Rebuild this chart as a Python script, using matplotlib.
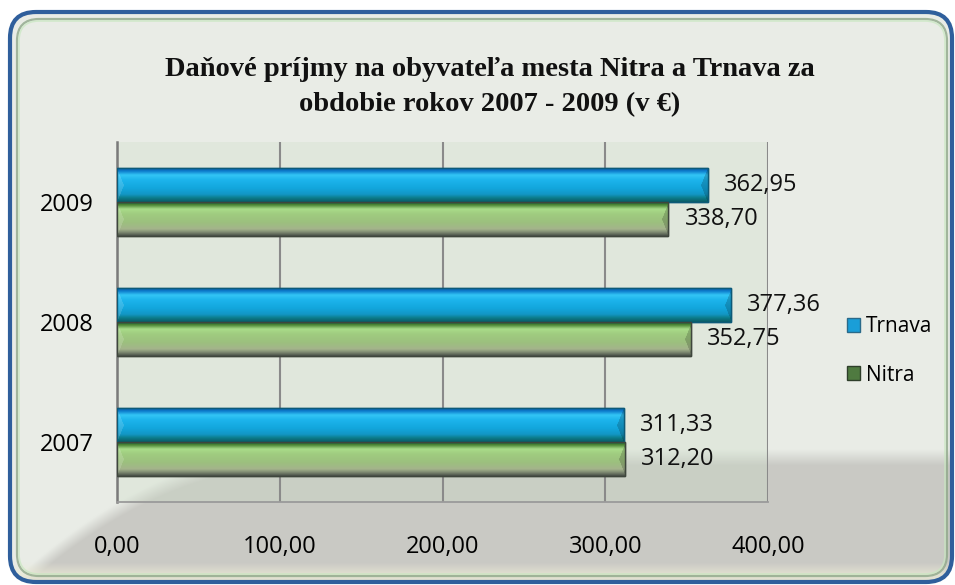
import numpy as np
import matplotlib
matplotlib.use("Agg")
import matplotlib.pyplot as plt
from matplotlib.patches import FancyBboxPatch, Rectangle, Patch
from matplotlib.colors import LinearSegmentedColormap, to_rgb

# ---- data ----
years = ["2007", "2008", "2009"]
trnava = [311.33, 377.36, 362.95]
nitra = [312.20, 352.75, 338.70]
series_names = ["Trnava", "Nitra"]
xticks = [0, 100, 200, 300, 400]
title = "Daňové príjmy na obyvateľa mesta Nitra a Trnava za\nobdobie rokov 2007 - 2009 (v €)"

def fmt(v):
    return f"{v:.2f}".replace(".", ",")

W, H = 955, 585
fig = plt.figure(figsize=(W / 100, H / 100), dpi=100)
fig.patch.set_facecolor("white")

# ---- background panel ----
bg = fig.add_axes([0, 0, 1, 1], zorder=-5)
bg.set_xlim(0, W); bg.set_ylim(H, 0); bg.axis("off")
yy, xx = np.mgrid[0:H, 0:W].astype(float)
light = np.array(to_rgb("#e9ece6"))
dark = np.array(to_rgb("#c9c9c4"))
xr = np.clip((300 - xx) / 275, 0, None)
fb = 455 + 120 * xr ** 2
t = np.clip((yy - fb + 6) / 16, 0, 1)[..., None]
img = light * (1 - t) + dark * t
cream = np.array(to_rgb("#ecebd6"))
s = np.clip((yy - 562) / 12, 0, 1)[..., None]
img = img * (1 - s * 0.7) + cream * s * 0.7
im = bg.imshow(img, extent=(0, W, H, 0), interpolation="bilinear", zorder=0)
outer = FancyBboxPatch((10, 12), 942, 570, boxstyle="round,pad=0,rounding_size=26",
                       transform=bg.transData, facecolor="none", edgecolor="#2f5f9c", lw=3, zorder=3)
bg.add_patch(outer)
im.set_clip_path(outer)
inner = FancyBboxPatch((17, 19), 930, 557, boxstyle="round,pad=0,rounding_size=22",
                       facecolor="none", edgecolor="#8fa88a", lw=1.6, zorder=2, alpha=0.8)
bg.add_patch(inner)
inner2 = FancyBboxPatch((19, 21), 926, 553, boxstyle="round,pad=0,rounding_size=20",
                        facecolor="none", edgecolor="#c8e8c0", lw=1.2, zorder=2, alpha=0.7)
bg.add_patch(inner2)

# ---- main axes ----
ax = fig.add_axes([117 / W, 1 - 502 / H, (768 - 117) / W, (502 - 142) / H])
ax.set_facecolor((0.80, 0.87, 0.78, 0.3))
ypos = np.arange(len(years))
bh = 0.283
off = 0.142
bars_t = ax.barh(ypos + off, trnava, height=bh, color="#14a8e0", edgecolor="#0d5a78", lw=1, zorder=3)
bars_n = ax.barh(ypos - off, nitra, height=bh, color="#98c078", edgecolor="#3e463c", lw=1, zorder=3)

blue_cmap = LinearSegmentedColormap.from_list("b", [
    (0.0, "#0a5fa8"), (0.08, "#0d7ccc"), (0.2, "#33c6f6"), (0.35, "#1cb4ec"),
    (0.6, "#12a6dc"), (0.78, "#1396c4"), (0.88, "#0c7e8c"), (1.0, "#0a5c66")])
green_cmap = LinearSegmentedColormap.from_list("g", [
    (0.0, "#2d5e22"), (0.08, "#4e8a38"), (0.2, "#a9dc8a"), (0.35, "#a0cc80"),
    (0.6, "#9cc07e"), (0.8, "#a4b48c"), (0.9, "#7c8870"), (1.0, "#4a5048")])

ny = 64
grad = np.linspace(0, 1, ny)[:, None]
for bars, cmap in ((bars_t, blue_cmap), (bars_n, green_cmap)):
    for p in bars:
        x, y, w, h = p.get_x(), p.get_y(), p.get_width(), p.get_height()
        npx = max(int(round(w / 400 * 651)), 10)
        g = cmap(grad)[:, :, :3].repeat(npx, axis=1).copy()
        cap = 7
        for r in range(ny):
            depth = int(round(cap * (1 - abs(r - ny / 2) / (ny / 2))))
            if depth > 0:
                g[r, :depth] = g[r, :depth] * 0.85 + 0.15
                g[r, -depth:] = g[r, -depth:] * 0.82
        ax.imshow(g, extent=(x, x + w, y, y + h), origin="upper",
                  aspect="auto", zorder=3.5, interpolation="bilinear")
        ax.add_patch(Rectangle((x, y), w, h, facecolor="none", edgecolor=p.get_edgecolor(), lw=1, zorder=4))

for i in range(len(years)):
    ax.text(trnava[i] + 10, ypos[i] + off, fmt(trnava[i]), va="center", ha="left",
            fontsize=17, family="Open Sans", color="#111111", zorder=5)
    ax.text(nitra[i] + 10, ypos[i] - off, fmt(nitra[i]), va="center", ha="left",
            fontsize=17, family="Open Sans", color="#111111", zorder=5)

ax.set_xlim(0, 400)
ax.set_ylim(-0.5, len(years) - 0.5)
ax.set_xticks(xticks)
ax.set_xticklabels([fmt(v) for v in xticks], fontsize=17, family="Open Sans")
ax.set_yticks(ypos)
ax.set_yticklabels(years, fontsize=17, family="Open Sans")
ax.tick_params(axis="x", length=0, pad=24)
ax.tick_params(axis="y", length=0, pad=17)
ax.grid(axis="x", color="#8a8a8a", lw=1.5, zorder=1)
ax.set_axisbelow(True)
ax.spines["top"].set_visible(False)
ax.spines["right"].set_visible(False)
ax.spines["left"].set_color("#7a7a7a"); ax.spines["left"].set_linewidth(1.8)
ax.spines["bottom"].set_color("#9a9a9a"); ax.spines["bottom"].set_linewidth(1.3)

# legend
handles = [Patch(facecolor="#1a9ed8", edgecolor="#2a6a8a"), Patch(facecolor="#4f7a40", edgecolor="#2e3e2a")]
leg = fig.legend(handles, series_names, loc="center left", bbox_to_anchor=(828 / W, 1 - 351 / H),
                 frameon=False, prop={"family": "Open Sans", "size": 15},
                 handlelength=0.65, handleheight=0.65, handletextpad=0.25, labelspacing=1.3)

fig.text(490 / W, 1 - 87 / H, title, ha="center", va="center", fontsize=20.5, fontweight="bold",
         family="Liberation Serif", linespacing=1.55, color="#111111")

fig.savefig("out.png", dpi=100)
